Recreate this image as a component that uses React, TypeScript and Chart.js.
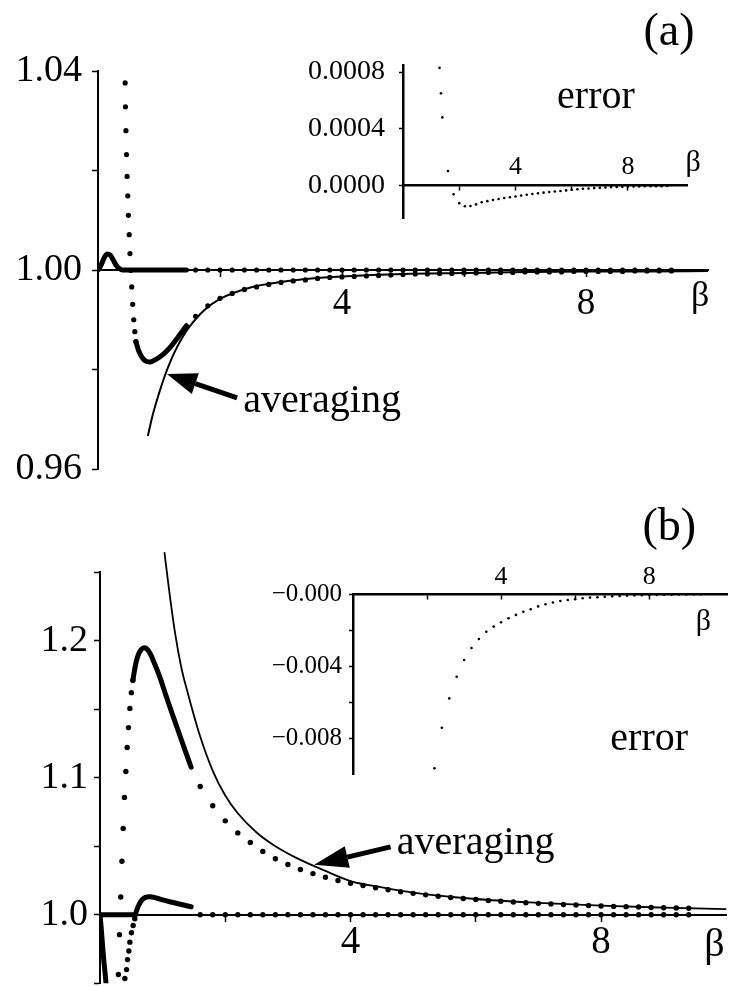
import { useEffect, useRef } from "react";
import { Chart, registerables } from "chart.js";

Chart.register(...registerables);

const INK = "#000";
const SERIF = '"Liberation Serif", "Times New Roman", Times, serif';

// β grid of the coarse samples (shared by every tail series)
const tailBeta = [
  1.6, 1.8, 2.0, 2.2, 2.4, 2.6, 2.8, 3.0, 3.2, 3.4, 3.6, 3.8, 4.0, 4.2, 4.4, 4.6, 4.8, 5.0, 5.2, 5.4,
  5.6, 5.8, 6.0, 6.2, 6.4, 6.6, 6.8, 7.0, 7.2, 7.4, 7.6, 7.8, 8.0, 8.2, 8.4, 8.6, 8.8, 9.0, 9.2, 9.4,
];

// ---------- panel (a) ----------
const aYTicks = [0.96, 0.98, 1.0, 1.02, 1.04];
const aYLabels = ["0.96", "", "1.00", "", "1.04"];
const aXTicks = [2, 4, 6, 8];
const aXLabels = ["", "4", "", "8"];

const aAveragingBeta = [0.82, 0.9, 1.0, 1.1, 1.2, 1.3, 1.4, 1.5, 1.75, 2.0, 2.5, 3.0, 3.5, 4.0, 5.0, 6.0, 7.0, 8.0, 9.0, 10.0];
const aAveragingValue = [
  0.9668, 0.971, 0.9752, 0.9789, 0.982, 0.9846, 0.9868, 0.9886, 0.992, 0.9942, 0.9965, 0.9976, 0.9983,
  0.9987, 0.9992, 0.9994, 0.9996, 0.9997, 0.9997, 0.9998,
];

const aSteepBeta = [0.445, 0.45, 0.458, 0.467, 0.477, 0.488, 0.499, 0.511, 0.524, 0.538, 0.553, 0.569, 0.586, 0.604, 0.622];
const aSteepValue = [
  1.0376, 1.0328, 1.028, 1.0232, 1.0188, 1.0149, 1.011, 1.0071, 1.0033, 0.9999, 0.9966, 0.9931, 0.99,
  0.9876, 0.9856,
];

const aTroughBeta = [0.622, 0.66, 0.7, 0.75, 0.8, 0.85, 0.9, 1.0, 1.1, 1.2, 1.3, 1.4, 1.45];
const aTroughValue = [0.9856, 0.984, 0.9829, 0.982, 0.9816, 0.9815, 0.9817, 0.9824, 0.9834, 0.9847, 0.9863, 0.988, 0.9888];

const aTailValue = [
  0.9907, 0.9928, 0.9943, 0.9953, 0.9961, 0.9966, 0.9971, 0.9975, 0.9978, 0.998, 0.9983, 0.9985, 0.9986,
  0.9987, 0.9988, 0.9989, 0.999, 0.9991, 0.9992, 0.9992, 0.9993, 0.9993, 0.9994, 0.9994, 0.9995, 0.9995,
  0.9995, 0.9996, 0.9996, 0.9996, 0.9996, 0.9997, 0.9997, 0.9997, 0.9997, 0.9997, 0.9998, 0.9998, 0.9998,
  0.9998,
];

const aUnitBeta = [0, 0.05, 0.1, 0.15, 0.2, 0.25, 0.3, 0.35, 0.4, 1.45];
const aUnitValue = [1.0, 1.001, 1.0024, 1.0032, 1.003, 1.002, 1.0009, 1.0003, 1.0, 1.0];
const aUnitTailValue = [
  1, 1, 1, 1, 1, 1, 1, 1, 1, 1, 1, 1, 1, 1, 1, 1, 1, 1, 1, 1, 1, 1, 1, 1, 1, 1, 1, 1, 1, 1, 1, 1, 1, 1, 1, 1,
  1, 1, 1, 1,
];

// inset of panel (a): error
const aErrYTicks = [0, 0.0004, 0.0008];
const aErrYLabels = ["0.0000", "0.0004", "0.0008"];
const aErrBeta = [1.3, 1.35, 1.4, ...tailBeta];
const aErrValue = [
  0.00083, 0.00065, 0.00048, 0.000101, -0.000062, -0.000125, -0.000147, -0.000145, -0.000134, -0.000119,
  -0.000111, -0.000103, -0.000096, -0.000089, -0.000083, -0.000078, -0.000072, -0.000066, -0.000061,
  -0.000056, -0.000051, -0.000047, -0.000043, -0.000039, -0.000035, -0.000031, -0.000027, -0.000024,
  -0.000022, -0.000019, -0.000017, -0.000015, -0.000012, -0.000011, -0.00001, -0.000009, -0.000008,
  -0.000007, -0.000006, -0.000006, -0.000005, -0.000005, -0.000004,
];

// ---------- panel (b) ----------
const bYTicks = [0.95, 1.0, 1.05, 1.1, 1.15, 1.2, 1.25];
const bYLabels = ["", "1.0", "", "1.1", "", "1.2", ""];
const bXTicks = [2, 4, 6, 8];
const bXLabels = ["", "4", "", "8"];

const bAveragingBeta = [1.03, 1.1, 1.2, 1.3, 1.4, 1.6, 1.8, 2.0, 2.2, 2.5, 2.8, 3.2, 3.6, 4.0, 4.5, 5.0, 6.0, 7.0, 8.0, 9.0, 10.0];
const bAveragingValue = [
  1.264, 1.238, 1.205, 1.18, 1.162, 1.13, 1.105, 1.087, 1.074, 1.06, 1.05, 1.04, 1.032, 1.0246, 1.02,
  1.0162, 1.0115, 1.0087, 1.0066, 1.0052, 1.0041,
];

const bSteepBeta = [0.294, 0.311, 0.331, 0.35, 0.37, 0.39, 0.413, 0.434, 0.455, 0.477, 0.501, 0.525];
const bSteepValue = [0.9564, 0.9855, 1.0129, 1.039, 1.063, 1.0856, 1.1045, 1.122, 1.1365, 1.1505, 1.162, 1.171];

const bPeakBeta = [0.525, 0.55, 0.58, 0.62, 0.66, 0.7, 0.74, 0.8, 0.85, 0.95, 1.06, 1.15, 1.25, 1.35, 1.455];
const bPeakValue = [
  1.171, 1.178, 1.185, 1.1905, 1.1935, 1.1947, 1.1942, 1.1905, 1.1855, 1.174, 1.159, 1.147, 1.134, 1.121,
  1.1076,
];

const bTailValue = [
  1.0935, 1.0795, 1.0685, 1.0597, 1.0527, 1.0462, 1.0408, 1.0366, 1.033, 1.03, 1.0274, 1.025, 1.023, 1.0213,
  1.0197, 1.0182, 1.0168, 1.0156, 1.0145, 1.0135, 1.0126, 1.0118, 1.0111, 1.0104, 1.0098, 1.0093, 1.0088,
  1.0083, 1.0079, 1.0075, 1.0071, 1.0068, 1.0064, 1.0061, 1.0059, 1.0056, 1.0053, 1.0051, 1.0049, 1.0047,
];

const bFlatBeta = [0, 0.56];
const bFlatValue = [1.0, 1.0];

const bDipBeta = [0, 0.02, 0.04, 0.06, 0.08, 0.1];
const bDipValue = [1.0, 0.99, 0.978, 0.967, 0.958, 0.948];

const bRiseBeta = [0.397, 0.424, 0.439, 0.461, 0.477, 0.502, 0.529, 0.556];
const bRiseValue = [0.9535, 0.96, 0.9673, 0.9736, 0.98, 0.9869, 0.9922, 0.997];

const bBumpBeta = [0.556, 0.6, 0.65, 0.7, 0.75, 0.8, 0.9, 1.0, 1.1, 1.2, 1.3, 1.4, 1.455];
const bBumpValue = [0.999, 1.005, 1.0095, 1.012, 1.013, 1.0131, 1.0122, 1.0109, 1.0097, 1.0086, 1.0075, 1.0064, 1.0058];

const bUnitTailValue = [
  1, 1, 1, 1, 1, 1, 1, 1, 1, 1, 1, 1, 1, 1, 1, 1, 1, 1, 1, 1, 1, 1, 1, 1, 1, 1, 1, 1, 1, 1, 1, 1, 1, 1, 1, 1,
  1, 1, 1, 1,
];

// inset of panel (b): error
const bErrYTicks = [-0.008, -0.006, -0.004, -0.002, 0];
const bErrYLabels = ["\u22120.008", "", "\u22120.004", "", "\u22120.000"];
const bErrBeta = [
  2.2, 2.4, 2.6, 2.8, 3.0, 3.2, 3.4, 3.6, 3.8, 4.0, 4.2, 4.4, 4.6, 4.8, 5.0, 5.2, 5.4, 5.6, 5.8, 6.0, 6.2,
  6.4, 6.6, 6.8, 7.0, 7.2, 7.4, 7.6, 7.8, 8.0, 8.2, 8.4, 8.6, 8.8, 9.0, 9.2, 9.4,
];
const bErrValue = [
  -0.00968, -0.00743, -0.0058, -0.0046, -0.00367, -0.003, -0.0025, -0.0021, -0.00181, -0.00157, -0.00135,
  -0.00116, -0.00099, -0.00085, -0.00069, -0.00057, -0.00047, -0.00039, -0.00033, -0.00029, -0.00024,
  -0.0002, -0.00018, -0.00015, -0.00013, -0.00011, -0.0001, -0.00008, -0.00007, -0.00006, -0.00005,
  -0.00004, -0.00004, -0.00003, -0.00003, -0.00002, -0.00002,
];

// ---------- helpers ----------
const pts = (xs: number[], ys: number[]) => xs.map((x, i) => ({ x, y: ys[i] }));

const dots = (xs: number[], ys: number[], r: number) => ({
  data: pts(xs, ys),
  showLine: false,
  pointRadius: r,
  pointHoverRadius: r,
  pointBackgroundColor: INK,
  pointBorderWidth: 0,
});

const curve = (xs: number[], ys: number[], w: number, extra: any = {}) => ({
  data: pts(xs, ys),
  showLine: true,
  borderColor: INK,
  borderWidth: w,
  pointRadius: 0,
  pointHoverRadius: 0,
  cubicInterpolationMode: "monotone",
  borderCapStyle: "round",
  borderJoinStyle: "round",
  ...extra,
});

type AxisSpec = {
  min: number;
  max: number;
  ticks: number[];
  labels: string[];
  size: number;
  tick: number;
  pad: number;
  border: number;
};

function xAxis(a: AxisSpec, at: number) {
  return {
    type: "linear",
    min: a.min,
    max: a.max,
    position: { y: at },
    afterBuildTicks: (s: any) => {
      s.ticks = a.ticks.map((v) => ({ value: v }));
    },
    afterFit: (s: any) => {
      s.paddingLeft = 0;
      s.paddingRight = 0;
    },
    ticks: {
      autoSkip: false,
      maxRotation: 0,
      minRotation: 0,
      padding: a.pad,
      color: INK,
      font: { family: SERIF, size: a.size },
      callback: (_v: any, i: number) => a.labels[i],
    },
    grid: { drawOnChartArea: false, drawTicks: true, tickLength: a.tick, tickWidth: 1.5, tickColor: INK, color: INK },
    border: { display: true, color: INK, width: a.border },
  };
}

function yAxis(a: AxisSpec, width: number) {
  return {
    type: "linear",
    min: a.min,
    max: a.max,
    position: "left",
    afterBuildTicks: (s: any) => {
      s.ticks = a.ticks.map((v) => ({ value: v }));
    },
    afterFit: (s: any) => {
      s.width = width;
      s.paddingTop = 0;
      s.paddingBottom = 0;
    },
    ticks: {
      autoSkip: false,
      padding: a.pad,
      color: INK,
      font: { family: SERIF, size: a.size },
      callback: (_v: any, i: number) => a.labels[i],
    },
    grid: { drawOnChartArea: false, drawTicks: true, tickLength: a.tick, tickWidth: 1.5, tickColor: INK, color: INK },
    border: { display: true, color: INK, width: a.border },
  };
}

type Note = { text: string; x: number; y: number; size: number; align?: CanvasTextAlign; baseline?: CanvasTextBaseline };
type Arrow = { from: [number, number]; to: [number, number]; width: number; head: number; half: number };

function notesPlugin(notes: Note[], arrows: Arrow[]) {
  return {
    id: "notes",
    afterDatasetsDraw(chart: any) {
      const { ctx } = chart;
      const xs = chart.scales.x;
      const ys = chart.scales.y;
      ctx.save();
      ctx.fillStyle = INK;
      ctx.strokeStyle = INK;
      for (const a of arrows) {
        const x0 = xs.getPixelForValue(a.from[0]);
        const y0 = ys.getPixelForValue(a.from[1]);
        const x1 = xs.getPixelForValue(a.to[0]);
        const y1 = ys.getPixelForValue(a.to[1]);
        const ang = Math.atan2(y1 - y0, x1 - x0);
        const bx = x1 - a.head * Math.cos(ang);
        const by = y1 - a.head * Math.sin(ang);
        ctx.lineWidth = a.width;
        ctx.lineCap = "butt";
        ctx.beginPath();
        ctx.moveTo(x0, y0);
        ctx.lineTo(bx, by);
        ctx.stroke();
        ctx.beginPath();
        ctx.moveTo(x1, y1);
        ctx.lineTo(bx + a.half * Math.sin(ang), by - a.half * Math.cos(ang));
        ctx.lineTo(bx - a.half * Math.sin(ang), by + a.half * Math.cos(ang));
        ctx.closePath();
        ctx.fill();
      }
      for (const n of notes) {
        ctx.font = `${n.size}px ${SERIF}`;
        ctx.textAlign = n.align ?? "left";
        ctx.textBaseline = n.baseline ?? "alphabetic";
        ctx.fillText(n.text, xs.getPixelForValue(n.x), ys.getPixelForValue(n.y));
      }
      ctx.restore();
    },
  };
}

function baseOptions(padding: any, scales: any) {
  return {
    responsive: false,
    animation: false,
    devicePixelRatio: 1,
    events: [],
    layout: { padding },
    plugins: { legend: { display: false }, tooltip: { enabled: false } },
    scales,
  };
}

// ---------- chart configurations ----------
function panelA() {
  return {
    type: "scatter",
    data: {
      datasets: [
        curve(aAveragingBeta, aAveragingValue, 2),
        curve(aUnitBeta, aUnitValue, 5),
        dots(tailBeta, aUnitTailValue, 2.6),
        dots(aSteepBeta, aSteepValue, 2.6),
        curve(aTroughBeta, aTroughValue, 5),
        dots(tailBeta, aTailValue, 2.6),
      ],
    },
    options: baseOptions(
      { left: 0, top: 71, right: 21, bottom: 31 },
      {
        x: xAxis({ min: 0, max: 10, ticks: aXTicks, labels: aXLabels, size: 37, tick: 6, pad: 6, border: 2 }, 1.0),
        y: yAxis({ min: 0.96, max: 1.04, ticks: aYTicks, labels: aYLabels, size: 38, tick: 6, pad: 10, border: 2 }, 98),
      }
    ),
    plugins: [
      notesPlugin(
        [
          { text: "(a)", x: 9.36, y: 1.0476, size: 46, align: "center", baseline: "middle" },
          { text: "averaging", x: 2.38, y: 0.9715, size: 40 },
          { text: "\u03b2", x: 9.87, y: 0.9946, size: 36, align: "center", baseline: "middle" },
        ],
        [{ from: [2.28, 0.9743], to: [1.13, 0.9791], width: 5, head: 30, half: 11 }]
      ),
    ],
  };
}

function insetA() {
  return {
    type: "scatter",
    data: { datasets: [dots(aErrBeta, aErrValue, 1.3)] },
    options: baseOptions(
      { left: 0, top: 25, right: 42, bottom: 22 },
      {
        x: xAxis({ min: 0, max: 10.1, ticks: aXTicks, labels: aXLabels, size: 26, tick: 4, pad: -37.6, border: 2.5 }, 0),
        y: yAxis({ min: -0.00023, max: 0.00085, ticks: aErrYTicks, labels: aErrYLabels, size: 28, tick: 4, pad: 14, border: 2.5 }, 113),
      }
    ),
    plugins: [
      notesPlugin(
        [
          { text: "error", x: 5.48, y: 0.000546, size: 40 },
          { text: "\u03b2", x: 10.32, y: 0.000158, size: 30, align: "center", baseline: "middle" },
        ],
        []
      ),
    ],
  };
}

function panelB() {
  return {
    type: "scatter",
    data: {
      datasets: [
        curve(bAveragingBeta, bAveragingValue, 1.8, { clip: { left: 0, top: false, right: 0, bottom: 0 } }),
        curve(bFlatBeta, bFlatValue, 5),
        curve(bDipBeta, bDipValue, 5),
        dots(bRiseBeta, bRiseValue, 2.7),
        curve(bBumpBeta, bBumpValue, 5),
        dots(tailBeta, bUnitTailValue, 2.7),
        dots(bSteepBeta, bSteepValue, 2.7),
        curve(bPeakBeta, bPeakValue, 5),
        dots(tailBeta, bTailValue, 2.7),
      ],
    },
    options: baseOptions(
      { left: 0, top: 92, right: 0, bottom: 1 },
      {
        x: xAxis({ min: 0, max: 10, ticks: bXTicks, labels: bXLabels, size: 39, tick: 6, pad: -1, border: 2 }, 1.0),
        y: yAxis({ min: 0.95, max: 1.25, ticks: bYTicks, labels: bYLabels, size: 38, tick: 6, pad: 6, border: 2 }, 100),
      }
    ),
    plugins: [
      notesPlugin(
        [
          { text: "(b)", x: 9.09, y: 1.2822, size: 46, align: "center", baseline: "middle" },
          { text: "averaging", x: 4.74, y: 1.0444, size: 40 },
          { text: "\u03b2", x: 9.81, y: 0.9775, size: 40, align: "center", baseline: "middle" },
        ],
        [{ from: [4.64, 1.0495], to: [3.42, 1.0364], width: 5, head: 34, half: 11 }]
      ),
    ],
  };
}

function insetB() {
  return {
    type: "scatter",
    data: { datasets: [dots(bErrBeta, bErrValue, 1.3)] },
    options: baseOptions(
      { left: 0, top: 54, right: 2, bottom: 26 },
      {
        x: xAxis({ min: 0, max: 10.1, ticks: bXTicks, labels: bXLabels, size: 26, tick: 4, pad: -36.6, border: 2.5 }, 0),
        y: yAxis({ min: -0.01, max: 0, ticks: bErrYTicks, labels: bErrYLabels, size: 25, tick: 4, pad: 7, border: 2.5 }, 103),
      }
    ),
    plugins: [
      notesPlugin(
        [
          { text: "error", x: 6.95, y: -0.00867, size: 40 },
          { text: "\u03b2", x: 9.46, y: -0.00156, size: 30, align: "center", baseline: "middle" },
        ],
        []
      ),
    ],
  };
}

function Plot({ make, left, top, width, height }: { make: () => any; left: number; top: number; width: number; height: number }) {
  const ref = useRef<HTMLCanvasElement>(null);
  useEffect(() => {
    const chart = new Chart(ref.current as HTMLCanvasElement, make());
    return () => chart.destroy();
  }, [make]);
  return (
    <canvas
      ref={ref}
      width={width}
      height={height}
      style={{ position: "absolute", left, top, width, height, display: "block" }}
    />
  );
}

export default function App() {
  return (
    <div
      style={{
        position: "fixed",
        left: 0,
        top: 0,
        width: 729,
        height: 986,
        background: "#fff",
        overflow: "hidden",
      }}
    >
      <Plot make={panelA} left={0} top={0} width={729} height={500} />
      <Plot make={insetA} left={290} top={40} width={439} height={200} />
      <Plot make={panelB} left={0} top={480} width={729} height={506} />
      <Plot make={insetB} left={250} top={540} width={479} height={260} />
    </div>
  );
}
